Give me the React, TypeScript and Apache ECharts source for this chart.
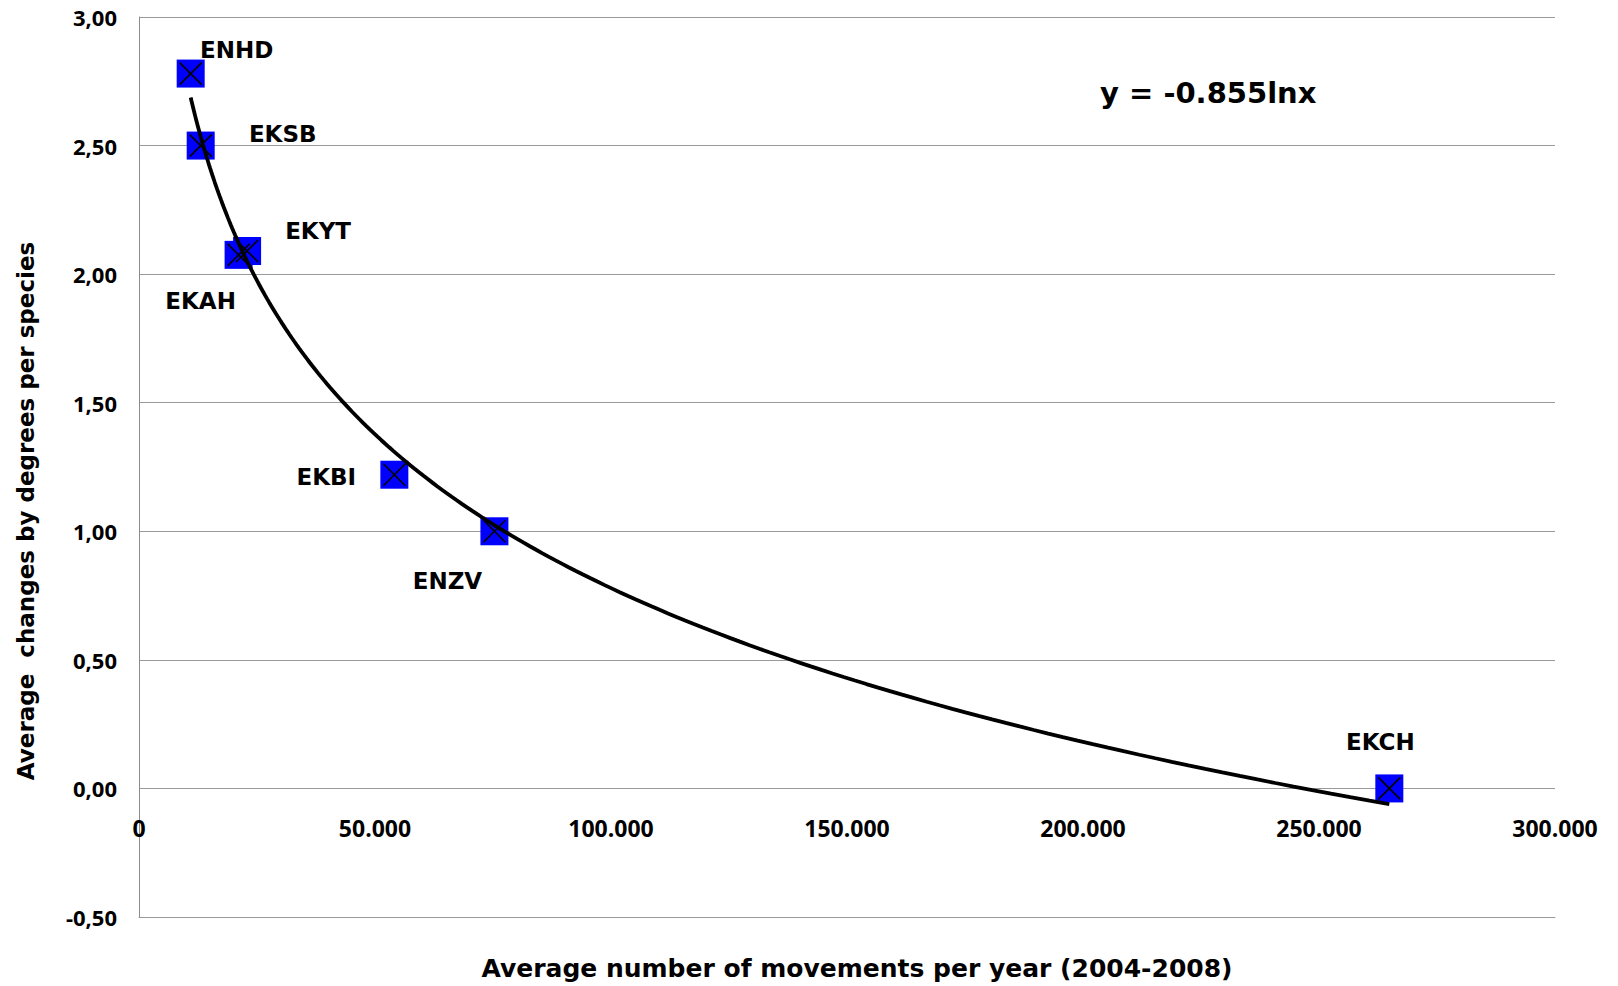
import React, { useEffect, useRef } from "react";
import * as echarts from "echarts";

// ---- Data ----
const airports = ["ENHD", "EKSB", "EKAH", "EKYT", "EKBI", "ENZV", "EKCH"];
const movements = [10950, 13070, 21100, 22900, 54100, 75300, 264900];
const avgChanges = [2.78, 2.5, 2.075, 2.09, 1.22, 1.0, 0.0];
const equationText = "y = -0.855lnx";
const xTitle = "Average number of movements per year (2004-2008)";
const yTitle = "Average  changes by degrees per species";

// ---- Label placement (style, not data) ----
const labelOffsets: Record<string, [number, number]> = {
  ENHD: [46, -24],
  EKSB: [82, -12],
  EKAH: [-38, 46],
  EKYT: [71, -20],
  EKBI: [-68, 2],
  ENZV: [-47, 50],
  EKCH: [-9, -46],
};

// Logarithmic least-squares fit y = a*ln(x) + b (Excel-style trendline)
function logFit(xs: number[], ys: number[]) {
  const lx = xs.map((v) => Math.log(v));
  const n = xs.length;
  const mx = lx.reduce((s, v) => s + v, 0) / n;
  const my = ys.reduce((s, v) => s + v, 0) / n;
  let sxy = 0;
  let sxx = 0;
  for (let i = 0; i < n; i++) {
    sxy += (lx[i] - mx) * (ys[i] - my);
    sxx += (lx[i] - mx) * (lx[i] - mx);
  }
  const a = sxy / sxx;
  const b = my - a * mx;
  return { a, b };
}

const FONT = "'Open Sans', 'DejaVu Sans', sans-serif";
const WIDE = "'DejaVu Sans', 'Open Sans', sans-serif";

export default function App() {
  const ref = useRef<HTMLDivElement>(null);

  useEffect(() => {
    if (!ref.current) return;
    const chart = echarts.init(ref.current, null, { renderer: "svg" });

    const { a, b } = logFit(movements, avgChanges);
    const xMin = Math.min(...movements);
    const xMax = Math.max(...movements);
    const steps = 200;
    const trend: [number, number][] = [];
    for (let i = 0; i <= steps; i++) {
      const x = xMin * Math.pow(xMax / xMin, i / steps);
      trend.push([x, a * Math.log(x) + b]);
    }

    const points = airports.map((name, i) => ({
      name,
      value: [movements[i], avgChanges[i]],
      label: {
        offset: labelOffsets[name],
      },
    }));
    const crossPoints = airports.map((name, i) => ({
      name,
      value: [movements[i], avgChanges[i]],
    }));

    const fmtX = (v: number) =>
      v === 0 ? "0" : String(Math.round(v)).replace(/\B(?=(\d{3})+(?!\d))/g, ".");
    const fmtY = (v: number) => v.toFixed(2).replace(".", ",");

    chart.setOption({
      animation: false,
      backgroundColor: "#ffffff",
      grid: {
        left: 139,
        right: 63,
        top: 17,
        bottom: 69,
        containLabel: false,
      },
      xAxis: {
        type: "value",
        min: 0,
        max: 300000,
        interval: 50000,
        axisLine: {
          show: true,
          onZero: false,
          lineStyle: { color: "#9a9a9a", width: 1 },
        },
        axisTick: { show: false },
        splitLine: { show: false },
        axisLabel: {
          formatter: fmtX,
          fontFamily: FONT,
          fontWeight: "bold",
          fontSize: 23,
          lineHeight: 23,
          color: "#000",
          margin: -101,
          showMinLabel: true,
          showMaxLabel: true,
        },
      },
      yAxis: {
        type: "value",
        min: -0.5,
        max: 3,
        interval: 0.5,
        axisLine: {
          show: true,
          onZero: false,
          lineStyle: { color: "#8c8c8c", width: 1 },
        },
        axisTick: { show: false },
        splitLine: {
          show: true,
          lineStyle: { color: "#9a9a9a", width: 1 },
        },
        axisLabel: {
          formatter: fmtY,
          fontFamily: FONT,
          fontWeight: "bold",
          fontSize: 22,
          color: "#000",
          margin: 22,
        },
      },
      series: [
        {
          name: "squares",
          type: "scatter",
          data: points,
          symbol: "rect",
          symbolSize: 28,
          itemStyle: { color: "#0000FF", opacity: 1 },
          z: 2,
          label: {
            show: true,
            position: "inside",
            formatter: "{b}",
            fontFamily: WIDE,
            fontWeight: "bold",
            fontSize: 23,
            color: "#000",
            align: "center",
            verticalAlign: "middle",
          },
          emphasis: { disabled: true },
        },
        {
          name: "trend",
          type: "line",
          data: trend,
          showSymbol: false,
          symbol: "none",
          smooth: false,
          lineStyle: { color: "#000", width: 3.8 },
          z: 3,
          emphasis: { disabled: true },
        },
        {
          name: "cross",
          type: "scatter",
          data: crossPoints,
          symbol: "path://M0,0L10,10M10,0L0,10",
          symbolSize: 22,
          itemStyle: {
            color: "transparent",
            borderColor: "#000",
            borderWidth: 1.6,
            opacity: 1,
          },
          z: 4,
          emphasis: { disabled: true },
        },
      ],
      graphic: [
        {
          type: "text",
          x: 1100,
          y: 93,
          style: {
            text: equationText,
            fontFamily: WIDE,
            fontWeight: "bold",
            fontSize: 29,
            fill: "#000",
            align: "left",
            verticalAlign: "middle",
          },
        },
        {
          type: "text",
          x: 857,
          y: 968,
          style: {
            text: xTitle,
            fontFamily: WIDE,
            fontWeight: "bold",
            fontSize: 25,
            fill: "#000",
            align: "center",
            verticalAlign: "middle",
          },
        },
        {
          type: "text",
          x: 26,
          y: 511,
          rotation: Math.PI / 2,
          style: {
            text: yTitle,
            fontFamily: WIDE,
            fontWeight: "bold",
            fontSize: 23,
            fill: "#000",
            align: "center",
            verticalAlign: "middle",
          },
        },
      ],
    });

    return () => {
      chart.dispose();
    };
  }, []);

  return (
    <div
      ref={ref}
      style={{
        position: "fixed",
        left: 0,
        top: 0,
        width: "1618px",
        height: "986px",
        background: "#fff",
      }}
    />
  );
}
